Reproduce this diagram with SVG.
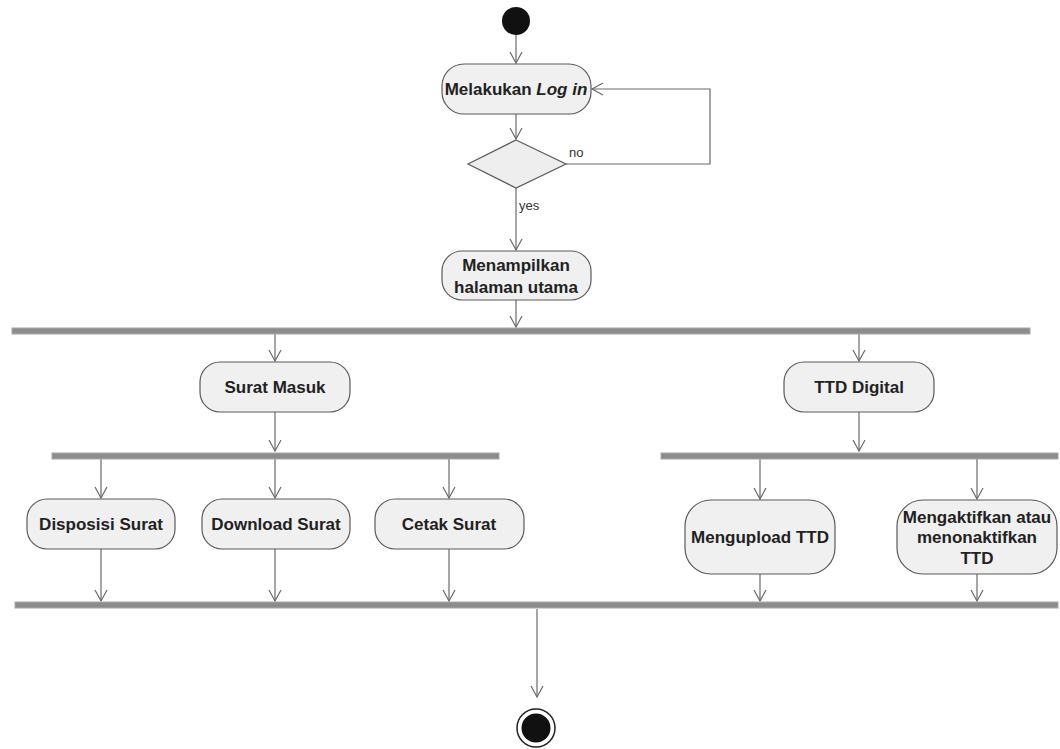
<svg xmlns="http://www.w3.org/2000/svg" width="1060" height="749" viewBox="0 0 1060 749">
<style>
.act{fill:#f0f0f0;stroke:#5a5a5a;stroke-width:1.2}
.bar{fill:#8c8c8c;stroke:#a8a8a8;stroke-width:1}
.t{font-family:"Liberation Sans",Arial,sans-serif;font-size:17px;font-weight:bold;fill:#222;text-anchor:middle}
.lbl{font-family:"Liberation Sans",Arial,sans-serif;font-size:13px;fill:#333}
.c{stroke:#6a6a6a;stroke-width:1.2;fill:none}
</style>
<defs>
<marker id="arr" markerUnits="userSpaceOnUse" markerWidth="14" markerHeight="14" viewBox="0 0 14 14" refX="12" refY="7" orient="auto">
<path d="M1,1 L12,7 L1,13" fill="none" stroke="#6a6a6a" stroke-width="1.2"/>
</marker>
</defs>
<rect width="1060" height="749" fill="#ffffff"/>
<g id="connectors">
<line class="c" x1="516" y1="35" x2="516" y2="63" marker-end="url(#arr)"/>
<line class="c" x1="516" y1="114" x2="516" y2="139" marker-end="url(#arr)"/>
<polyline class="c" points="566,164 710,164 710,89 592,89" marker-end="url(#arr)"/>
<line class="c" x1="516" y1="188" x2="516" y2="250" marker-end="url(#arr)"/>
<line class="c" x1="516" y1="300" x2="516" y2="327" marker-end="url(#arr)"/>
<line class="c" x1="275" y1="334" x2="275" y2="361" marker-end="url(#arr)"/>
<line class="c" x1="859" y1="334" x2="859" y2="361" marker-end="url(#arr)"/>
<line class="c" x1="275" y1="412" x2="275" y2="451" marker-end="url(#arr)"/>
<line class="c" x1="859" y1="412" x2="859" y2="451" marker-end="url(#arr)"/>
<line class="c" x1="101" y1="459" x2="101" y2="498" marker-end="url(#arr)"/>
<line class="c" x1="275" y1="459" x2="275" y2="498" marker-end="url(#arr)"/>
<line class="c" x1="449" y1="459" x2="449" y2="498" marker-end="url(#arr)"/>
<line class="c" x1="760" y1="459" x2="760" y2="499" marker-end="url(#arr)"/>
<line class="c" x1="977" y1="459" x2="977" y2="499" marker-end="url(#arr)"/>
<line class="c" x1="101" y1="549" x2="101" y2="601" marker-end="url(#arr)"/>
<line class="c" x1="275" y1="549" x2="275" y2="601" marker-end="url(#arr)"/>
<line class="c" x1="449" y1="549" x2="449" y2="601" marker-end="url(#arr)"/>
<line class="c" x1="760" y1="574" x2="760" y2="601" marker-end="url(#arr)"/>
<line class="c" x1="977" y1="574" x2="977" y2="601" marker-end="url(#arr)"/>
<line class="c" x1="537" y1="609" x2="537" y2="697" marker-end="url(#arr)"/>
<text class="lbl" x="569" y="157">no</text>
<text class="lbl" x="519" y="210">yes</text>
</g>
<g id="start"><circle cx="516" cy="21" r="14" fill="#111"/></g>
<g id="login">
<rect class="act" x="442" y="64" width="149" height="50" rx="22"/>
<text class="t" x="516" y="95">Melakukan <tspan font-style="italic">Log in</tspan></text>
</g>
<g id="decision"><polygon points="516,140 566,164 516,188 468,164" fill="#eeeeee" stroke="#5a5a5a" stroke-width="1.2"/></g>
<g id="utama">
<rect class="act" x="442" y="251" width="149" height="49" rx="20"/>
<text class="t" x="516" y="271">Menampilkan</text>
<text class="t" x="516" y="293">halaman utama</text>
</g>
<g id="fork1"><rect class="bar" x="12" y="328" width="1018" height="6"/></g>
<g id="suratmasuk">
<rect class="act" x="200" y="362" width="150" height="50" rx="20"/>
<text class="t" x="275" y="393">Surat Masuk</text>
</g>
<g id="ttddigital">
<rect class="act" x="784" y="362" width="150" height="50" rx="20"/>
<text class="t" x="859" y="393">TTD Digital</text>
</g>
<g id="fork2"><rect class="bar" x="52" y="453" width="447" height="6"/></g>
<g id="fork3"><rect class="bar" x="661" y="453" width="397" height="6"/></g>
<g id="disposisi">
<rect class="act" x="27" y="499" width="148" height="50" rx="20"/>
<text class="t" x="101" y="530">Disposisi Surat</text>
</g>
<g id="download">
<rect class="act" x="202" y="499" width="148" height="50" rx="20"/>
<text class="t" x="276" y="530">Download Surat</text>
</g>
<g id="cetak">
<rect class="act" x="375" y="499" width="149" height="50" rx="20"/>
<text class="t" x="449" y="530">Cetak Surat</text>
</g>
<g id="mengupload">
<rect class="act" x="685" y="500" width="150" height="74" rx="26"/>
<text class="t" x="760" y="543">Mengupload TTD</text>
</g>
<g id="mengaktifkan">
<rect class="act" x="897" y="500" width="160" height="74" rx="26"/>
<text class="t" x="977" y="523">Mengaktifkan atau</text>
<text class="t" x="977" y="543">menonaktifkan</text>
<text class="t" x="977" y="564">TTD</text>
</g>
<g id="join"><rect class="bar" x="15" y="602" width="1043" height="6"/></g>
<g id="end">
<circle cx="536" cy="728" r="19" fill="#fff" stroke="#222" stroke-width="1.5"/>
<circle cx="536" cy="728" r="14.5" fill="#111"/>
</g>
</svg>
